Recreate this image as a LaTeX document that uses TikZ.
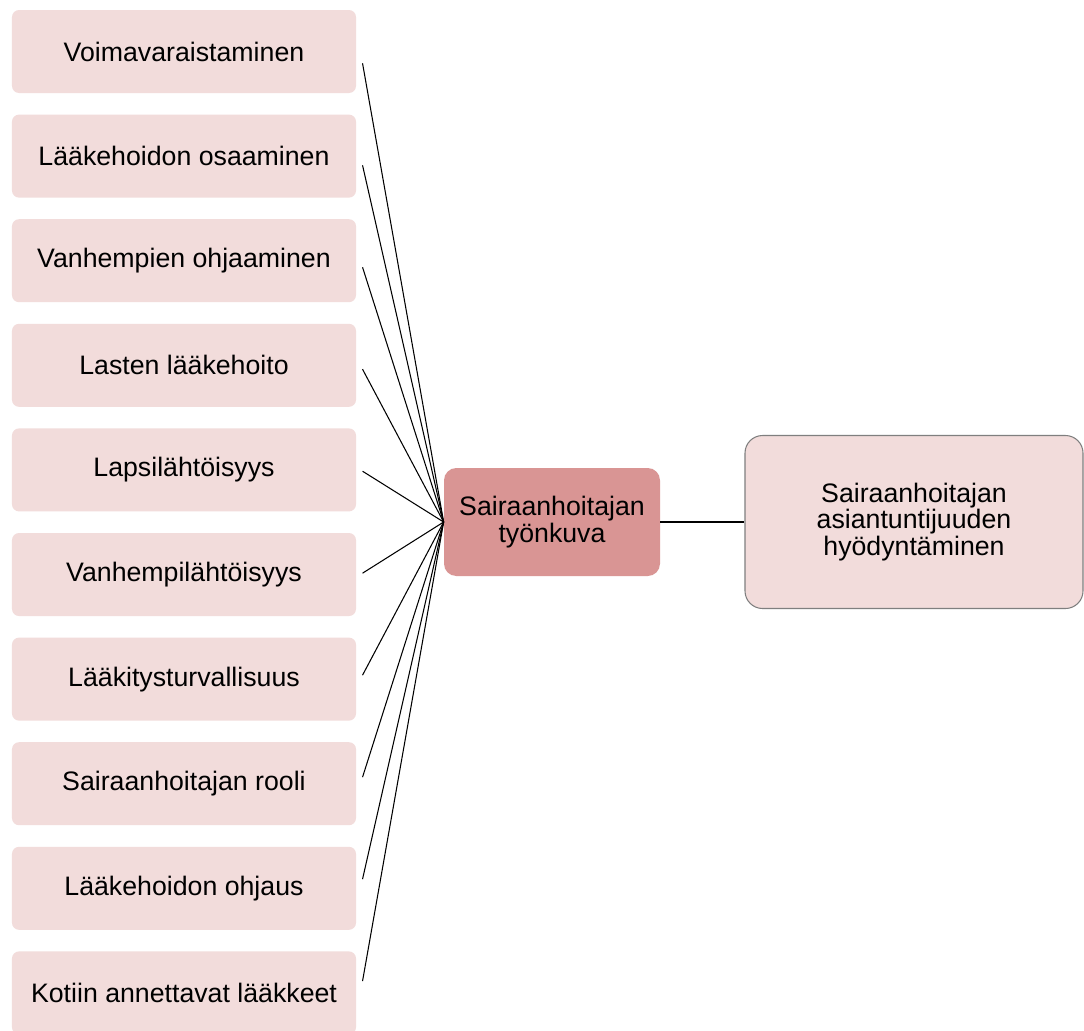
\documentclass[tikz,border=0pt]{standalone}
\usepackage{fontspec}
\setmainfont{Liberation Sans}
\usetikzlibrary{calc, positioning}
\definecolor{pinklight}{HTML}{F2DCDB}
\definecolor{pinkdark}{HTML}{D99594}
\definecolor{boxgray}{HTML}{7F7F7F}

\begin{document}
\begin{tikzpicture}[
    topic/.style={rounded corners=4pt, fill=pinklight, inner sep=0pt,
                  minimum width=6.88cm, minimum height=1.66cm,
                  font=\fontsize{15.2}{15.1}\selectfont, align=center},
    link/.style={line width=0.6pt, black}]
  \useasboundingbox (0,0) rectangle (21.68,-20.6);
  \fill[white] (0,0) rectangle (21.68,-20.6);

  % Central node and the outcome box
  \node[rounded corners=7pt, fill=pinkdark, inner sep=0pt,
        minimum width=4.32cm, minimum height=2.16cm,
        font=\fontsize{15.2}{15.1}\selectfont, align=center]
    (hub) at (11.04,-10.44) {Sairaanhoitajan\\työnkuva};
  \node[draw=boxgray, line width=0.6pt, rounded corners=10pt,
        fill=pinklight, inner sep=0pt,
        minimum width=6.76cm, minimum height=3.46cm,
        font=\fontsize{15.2}{15.1}\selectfont, align=center]
    (use) at (18.28,-10.44)
    {Sairaanhoitajan\\asiantuntijuuden\\hyödyntäminen};
  \draw[link] (hub.east) -- (use.west);

  % Left column of topics, each linked to the hub
  \foreach \lab [count=\i] in {Voimavaraistaminen, Lääkehoidon osaaminen,
      Vanhempien ohjaaminen, Lasten lääkehoito, Lapsilähtöisyys,
      Vanhempilähtöisyys, Lääkitysturvallisuus, Sairaanhoitajan rooli,
      Lääkehoidon ohjaus, Kotiin annettavat lääkkeet} {
    \node[topic] (t\i) at (3.68, {-1.03-2.092*(\i-1)}) {\lab};
    \draw[link] ($(t\i.east)!0.025!(hub.west)+(0.08,0)$) -- (hub.west);
  }
\end{tikzpicture}
\end{document}
